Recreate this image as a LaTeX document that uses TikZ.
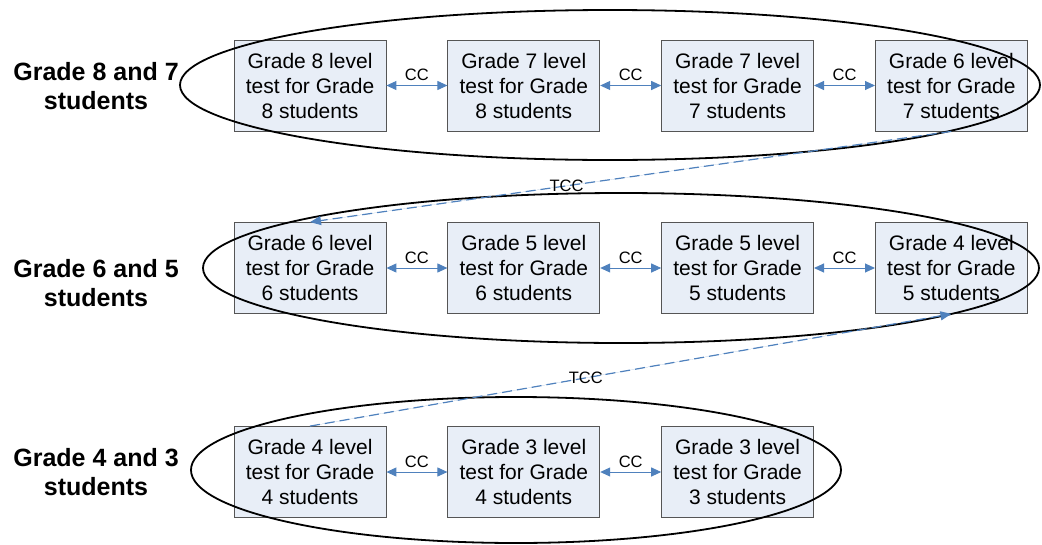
\documentclass[tikz,border=0pt]{standalone}
\usepackage{fontspec}
\setmainfont{Liberation Sans}
\usetikzlibrary{arrows.meta, positioning}

\definecolor{linkblue}{HTML}{4F81BD}
\definecolor{boxfill}{HTML}{E8EEF7}
\definecolor{boxline}{HTML}{555555}

\tikzset{
  testbox/.style={rectangle, draw=boxline, fill=boxfill, line width=0.8pt, minimum width=152pt, minimum height=91pt, inner sep=0pt, align=center, font=\fontsize{21}{25}\selectfont},
  grouplabel/.style={align=center, font=\fontsize{25}{29}\selectfont\bfseries},
  ring/.style={draw=black, line width=1.8pt},
  cc/.style={{Triangle[length=10pt,width=9pt]}-{Triangle[length=10pt,width=9pt]}, draw=linkblue, fill=linkblue, line width=1pt},
  tcc/.style={-{Triangle[length=11pt,width=9pt]}, draw=linkblue, fill=linkblue, line width=1.2pt, dash pattern=on 10pt off 5pt},
  linklabel/.style={font=\fontsize{16.5}{18}\selectfont, inner sep=1pt}
}

\begin{document}
\begin{tikzpicture}[x=1pt, y=-1pt]
  \useasboundingbox (0,0) rectangle (1042,544);

  % Nodes
  \node (g87) [testbox] at (310,85.5) {Grade 8 level\\test for Grade\\8 students};
  \node (g78) [testbox, right=61pt of g87] {Grade 7 level\\test for Grade\\8 students};
  \node (g77) [testbox, right=61pt of g78] {Grade 7 level\\test for Grade\\7 students};
  \node (g67) [testbox, right=61pt of g77] {Grade 6 level\\test for Grade\\7 students};

  \node (g66) [testbox] at (310,268) {Grade 6 level\\test for Grade\\6 students};
  \node (g56) [testbox, right=61pt of g66] {Grade 5 level\\test for Grade\\6 students};
  \node (g55) [testbox, right=61pt of g56] {Grade 5 level\\test for Grade\\5 students};
  \node (g45) [testbox, right=61pt of g55] {Grade 4 level\\test for Grade\\5 students};

  \node (g44) [testbox] at (310,472) {Grade 4 level\\test for Grade\\4 students};
  \node (g34) [testbox, right=61pt of g44] {Grade 3 level\\test for Grade\\4 students};
  \node (g33) [testbox, right=61pt of g34] {Grade 3 level\\test for Grade\\3 students};

  \node (row87) [grouplabel] at (96,86) {Grade 8 and 7\\students};
  \node (row65) [grouplabel] at (96,283) {Grade 6 and 5\\students};
  \node (row43) [grouplabel] at (96,472) {Grade 4 and 3\\students};

  % Groups
  \draw[ring] (610,85) ellipse [x radius=430pt, y radius=75pt];
  \draw[ring] (621,268) ellipse [x radius=418pt, y radius=75pt];
  \draw[ring] (516,470) ellipse [x radius=325pt, y radius=73pt];

  % Arrows
  \draw[cc] (g87) -- node[linklabel, above=3pt] {CC} (g78);
  \draw[cc] (g78) -- node[linklabel, above=3pt] {CC} (g77);
  \draw[cc] (g77) -- node[linklabel, above=3pt] {CC} (g67);
  \draw[cc] (g66) -- node[linklabel, above=3pt] {CC} (g56);
  \draw[cc] (g56) -- node[linklabel, above=3pt] {CC} (g55);
  \draw[cc] (g55) -- node[linklabel, above=3pt] {CC} (g45);
  \draw[cc] (g44) -- node[linklabel, above=3pt] {CC} (g34);
  \draw[cc] (g34) -- node[linklabel, above=3pt] {CC} (g33);

  \draw[tcc] (g67.south) -- node[linklabel, pos=0.6] {TCC} (g66.north);
  \draw[tcc] (g44.north) -- node[linklabel, pos=0.43] {TCC} (g45.south);
\end{tikzpicture}
\end{document}
